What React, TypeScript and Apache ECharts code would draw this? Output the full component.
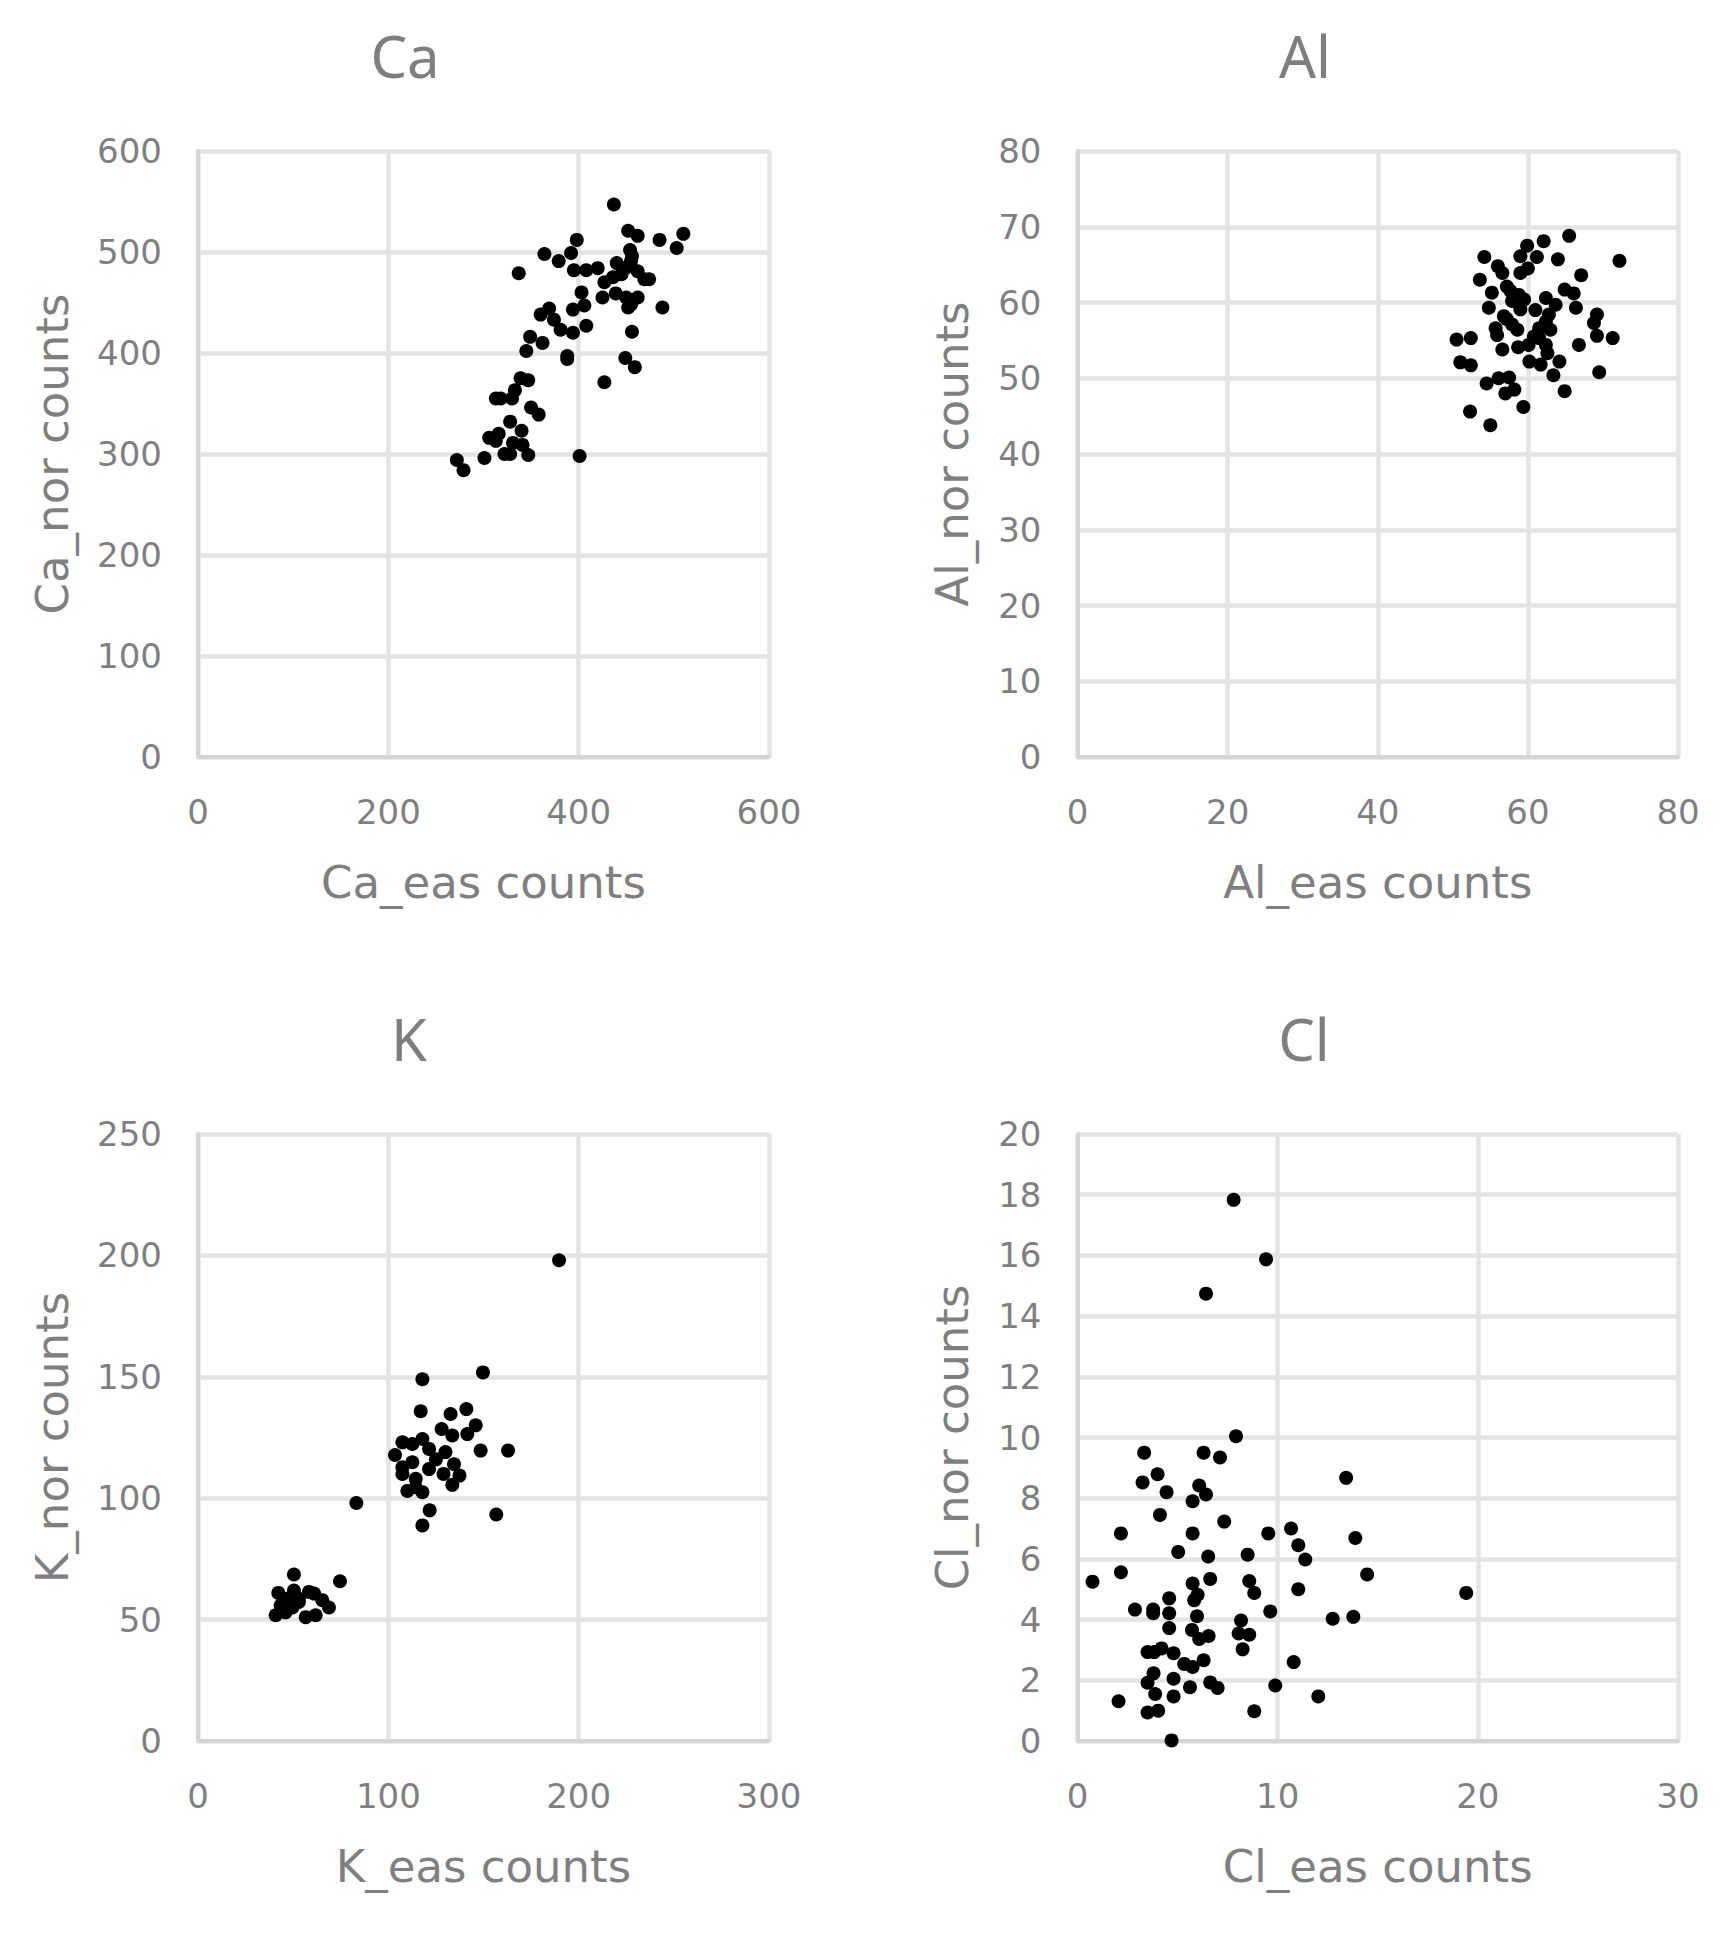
import React, { useEffect, useRef } from "react";
import * as echarts from "echarts";

const titles = ["Ca", "Al", "K", "Cl"];
const xNames = ["Ca_eas counts", "Al_eas counts", "K_eas counts", "Cl_eas counts"];
const yNames = ["Ca_nor counts", "Al_nor counts", "K_nor counts", "Cl_nor counts"];
const xRanges = [[0, 600, 200], [0, 80, 20], [0, 300, 100], [0, 30, 10]];
const yRanges = [[0, 600, 100], [0, 80, 10], [0, 250, 50], [0, 20, 2]];

const caEas = [437, 452, 462, 485, 510, 503, 398, 454, 364, 392, 379, 337, 395, 408, 420, 440, 455, 462, 474, 469, 427, 436, 425, 439, 450, 462, 452, 455, 488, 403, 406, 394, 369, 360, 374, 381, 394, 408, 456, 349, 362, 345, 388, 388, 449, 459, 427, 339, 347, 333, 330, 313, 318, 350, 358, 328, 340, 316, 306, 313, 331, 341, 322, 328, 347, 401, 301, 272, 279, 456, 449, 445];
const caNor = [547, 521, 516, 512, 518, 504, 512, 502, 498, 499, 491, 479, 482, 482, 484, 489, 491, 481, 473, 473, 470, 475, 455, 459, 455, 455, 445, 448, 445, 460, 447, 443, 444, 438, 433, 423, 420, 427, 421, 416, 410, 402, 397, 394, 395, 386, 371, 375, 373, 363, 355, 355, 355, 346, 339, 332, 323, 320, 316, 313, 311, 309, 300, 300, 299, 298, 296, 294, 284, 496, 484, 478];

const alEas = [65.5, 62.1, 59.9, 59.0, 61.2, 54.2, 64.0, 72.2, 56.0, 56.6, 60.0, 59.0, 67.1, 53.6, 57.2, 64.9, 66.1, 55.2, 58.8, 57.9, 59.5, 62.4, 63.7, 54.8, 59.0, 61.0, 66.4, 56.8, 62.8, 69.2, 68.8, 55.7, 58.6, 61.5, 63.0, 55.9, 50.5, 52.4, 60.8, 69.2, 71.3, 60.1, 62.4, 58.7, 56.6, 66.8, 62.6, 60.2, 61.7, 64.2, 51.0, 52.4, 63.4, 69.5, 56.1, 57.5, 54.5, 58.2, 57.0, 64.9, 59.4, 52.3, 55.0, 57.7, 58.2, 62.4, 61.5, 57.2, 57.9];
const alNor = [68.8, 68.1, 67.5, 66.1, 66.0, 66.0, 65.7, 65.5, 64.8, 63.9, 64.5, 63.9, 63.6, 63.0, 62.1, 61.7, 61.2, 61.3, 61.0, 60.2, 60.4, 60.6, 59.7, 59.3, 59.1, 59.0, 59.3, 58.2, 58.4, 58.4, 57.3, 56.6, 56.4, 56.6, 56.4, 55.7, 55.1, 55.3, 55.5, 55.6, 55.3, 54.4, 54.4, 54.1, 53.8, 54.4, 53.3, 52.2, 51.8, 52.2, 52.1, 51.7, 50.4, 50.8, 50.0, 50.1, 49.3, 48.5, 48.0, 48.3, 46.2, 45.6, 43.8, 61.5, 60.2, 57.5, 55.3, 57.8, 57.1];

const kEas = [189.7, 149.7, 117.9, 117, 132.7, 141, 145.9, 128, 141.5, 133.6, 117.9, 107.4, 112.6, 121.4, 103.5, 148.5, 162.9, 130, 125, 112.6, 107.4, 121.4, 134.5, 129, 137.4, 107.4, 133.6, 114.4, 110, 117.9, 114.4, 83.2, 121.7, 117.9, 156.7, 50.4, 74.6, 42.2, 50.4, 58.3, 61, 46, 53, 65.3, 68.8, 43.4, 49.6, 40.8, 46, 56.6, 61.8, 53];
const kNor = [198, 151.8, 149, 135.8, 134.7, 136.7, 130, 128.5, 126.4, 125.8, 124.4, 123, 122.3, 120.3, 117.8, 119.6, 119.6, 119, 116, 114.8, 112.7, 112, 114, 110, 109.3, 110, 105.5, 108, 103, 102.5, 104.5, 98, 95, 88.8, 93.3, 68.6, 65.8, 61, 62, 61.4, 60.7, 58.6, 58.6, 58, 55, 55.8, 55, 51.8, 53, 51, 51.8, 57.3];

const clEas = [7.8, 9.42, 6.42, 7.92, 3.33, 6.3, 7.12, 4.0, 3.25, 13.42, 6.08, 4.45, 6.42, 5.75, 4.12, 7.33, 2.17, 5.75, 9.53, 10.67, 13.88, 11.03, 5.03, 6.53, 8.5, 11.38, 2.17, 0.75, 5.75, 6.63, 8.58, 8.83, 11.03, 14.47, 19.42, 6.0, 4.58, 5.83, 2.87, 3.78, 3.78, 4.58, 5.97, 9.63, 12.75, 13.78, 8.17, 4.58, 5.72, 6.08, 6.55, 8.05, 8.58, 8.25, 3.5, 3.83, 4.2, 4.8, 5.33, 5.75, 6.3, 10.8, 3.8, 3.5, 4.8, 6.63, 7.0, 5.62, 9.88, 3.88, 4.8, 12.03, 2.05, 3.5, 4.03, 8.83, 4.7];
const clNor = [17.83, 15.87, 14.74, 10.04, 9.5, 9.5, 9.34, 8.79, 8.52, 8.67, 8.42, 8.2, 8.12, 7.9, 7.45, 7.23, 6.84, 6.84, 6.84, 7.0, 6.69, 6.45, 6.23, 6.08, 6.14, 5.98, 5.56, 5.25, 5.19, 5.34, 5.27, 4.88, 5.0, 5.49, 4.88, 4.82, 4.7, 4.64, 4.33, 4.33, 4.21, 4.21, 4.11, 4.27, 4.03, 4.09, 3.97, 3.72, 3.66, 3.36, 3.46, 3.54, 3.5, 3.02, 2.93, 2.93, 3.05, 2.89, 2.54, 2.44, 2.66, 2.6, 2.23, 1.92, 2.05, 1.93, 1.75, 1.77, 1.83, 1.55, 1.47, 1.47, 1.31, 0.94, 1.0, 0.98, 0.02];

const seriesX = [caEas, alEas, kEas, clEas];
const seriesY = [caNor, alNor, kNor, clNor];

const TXT = "#7f7f7f";
const FONT = "'DejaVu Sans', 'Noto Sans', sans-serif";
const TITLE_FONT = "'Noto Sans', 'DejaVu Sans', sans-serif";

export default function App() {
  const ref = useRef<HTMLDivElement>(null);
  useEffect(() => {
    if (!ref.current) return;
    const chart = echarts.init(ref.current, undefined, { renderer: "svg" });
    const grids = [
      { left: 198, top: 151, width: 571, height: 606 },
      { left: 1077.5, top: 151, width: 600.5, height: 606 },
      { left: 198, top: 1134, width: 571, height: 607 },
      { left: 1077.5, top: 1134, width: 600.5, height: 607 },
    ];
    const titlePos = [
      [405, 55],
      [1305, 55],
      [409, 1038],
      [1304, 1038],
    ];
    const yNameGap = [123, 103, 123, 103];
    const axisLine = { show: true, lineStyle: { color: "#d6d6d6", width: 4 } };
    const splitLine = { show: true, lineStyle: { color: "#e4e4e4", width: 4.5 } };
    const option: any = {
      animation: false,
      backgroundColor: "#ffffff",
      grid: grids,
      xAxis: xRanges.map((r, i) => ({
        type: "value",
        gridIndex: i,
        min: r[0],
        max: r[1],
        interval: r[2],
        axisLine,
        axisTick: { show: false },
        splitLine,
        axisLabel: { color: TXT, fontSize: 34, fontFamily: FONT, margin: 38 },
        name: xNames[i],
        nameLocation: "middle",
        nameGap: 103,
        nameTextStyle: { color: TXT, fontSize: 45, fontFamily: FONT },
      })),
      yAxis: yRanges.map((r, i) => ({
        type: "value",
        gridIndex: i,
        min: r[0],
        max: r[1],
        interval: r[2],
        axisLine,
        axisTick: { show: false },
        splitLine,
        axisLabel: { color: TXT, fontSize: 34, fontFamily: FONT, margin: 36 },
        name: yNames[i],
        nameLocation: "middle",
        nameGap: yNameGap[i],
        nameRotate: 90,
        nameTextStyle: { color: TXT, fontSize: 45, fontFamily: FONT },
      })),
      graphic: titles.map((t, i) => ({
        type: "text",
        x: titlePos[i][0],
        y: titlePos[i][1],
        style: {
          text: t,
          fill: TXT,
          font: `58px ${TITLE_FONT}`,
          textAlign: "center",
          textVerticalAlign: "middle",
        },
      })),
      series: seriesX.map((xs, i) => ({
        type: "scatter",
        xAxisIndex: i,
        yAxisIndex: i,
        symbol: "circle",
        symbolSize: 14,
        itemStyle: { color: "#000000", opacity: 1 },
        data: xs.map((x, j) => [x, seriesY[i][j]]),
      })),
    };
    chart.setOption(option);
    return () => chart.dispose();
  }, []);
  return (
    <div
      ref={ref}
      style={{ position: "absolute", left: 0, top: 0, width: 1735, height: 1938 }}
    />
  );
}
